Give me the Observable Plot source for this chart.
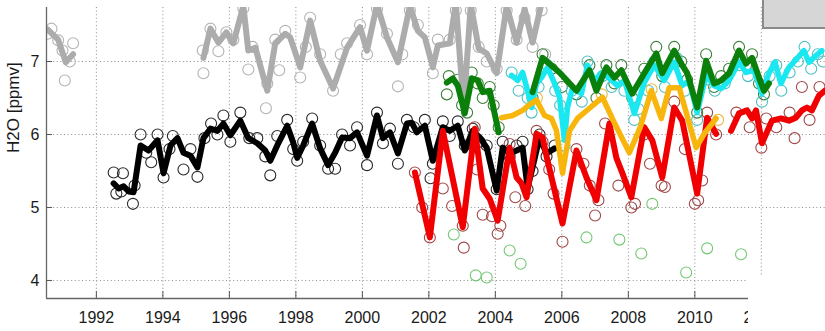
<!DOCTYPE html>
<html>
<head>
<meta charset="utf-8">
<script src="https://cdn.jsdelivr.net/npm/d3@7"></script>
<script src="https://cdn.jsdelivr.net/npm/@observablehq/plot@0.6"></script>
<style>
  html, body { margin: 0; padding: 0; background: #fff; }
  #wrap { position: relative; width: 825px; height: 331px; overflow: hidden; }
  #patch { position: absolute; left: 748px; top: 275px; width: 80px; height: 60px; background: #fff; }
  #legendbox { position: absolute; left: 762px; top: -2px; width: 70px; height: 29px; background: #d6d6d6; border-left: 2px solid #8a8a8a; border-bottom: 2px solid #8a8a8a; }
</style>
</head>
<body>
<div id="wrap"><div id="chart"></div><div id="patch"></div><div id="legendbox"></div></div>
<script>
// ---- axis ticks ----
const xTicks = [1992, 1994, 1996, 1998, 2000, 2002, 2004, 2006, 2008, 2010, 2012];
const yTicks = [4, 5, 6, 7];
const xDomain = [1990.5, 2013.93];
const yDomain = [3.753, 7.74];
const yLabel = "H2O [ppmv]";

// ---- gray series (line) ----
const grayYears1 = [1990.53, 1990.85, 1991.08, 1991.3];
const grayValues1 = [7.44, 7.30, 6.99, 7.10];
const grayYears2 = [1995.22, 1995.43, 1995.67, 1995.91, 1996.12, 1996.42, 1996.57, 1996.78, 1997.14, 1997.38, 1997.68, 1997.83, 1998.13, 1998.43, 1998.73, 1999.12, 1999.54, 1999.93, 2000.14, 2000.44, 2000.74, 2001.07, 2001.43, 2001.67, 2001.88, 2002.12, 2002.27, 2002.63, 2002.81, 2003.05, 2003.26, 2003.50, 2003.74, 2004.04, 2004.34, 2004.64, 2004.88, 2005.12, 2005.39];
const grayValues2 = [7.05, 7.45, 7.26, 7.40, 7.25, 7.76, 7.15, 7.19, 6.60, 7.25, 7.38, 7.33, 6.92, 7.56, 7.01, 6.63, 7.19, 7.47, 7.15, 7.78, 7.33, 6.99, 7.76, 7.42, 7.33, 6.92, 7.22, 7.25, 7.80, 6.37, 7.78, 7.18, 7.11, 6.84, 7.76, 7.26, 7.72, 7.26, 7.80];
// gray circles
const grayCircYears = [1990.53, 1990.65, 1990.85, 1990.98, 1991.30, 1991.05, 1991.20, 1995.22, 1995.20, 1995.43, 1995.67, 1995.91, 1996.12, 1996.42, 1996.57, 1996.70, 1997.10, 1997.14, 1997.38, 1997.50, 1997.68, 1998.13, 1998.30, 1998.43, 1998.73, 1999.12, 1999.35, 1999.54, 1999.93, 2000.14, 2000.44, 2000.74, 2001.07, 2001.20, 2001.43, 2001.67, 2002.12, 2002.27, 2002.63, 2002.81, 2003.05, 2003.26, 2003.50, 2003.74, 2004.04, 2004.34, 2004.64, 2004.88, 2005.12, 2005.39, 2005.50];
const grayCircValues = [7.38, 7.45, 7.29, 7.15, 7.25, 6.74, 7.00, 6.84, 7.15, 7.45, 7.14, 7.40, 7.30, 7.73, 6.89, 7.20, 6.36, 6.70, 7.30, 6.88, 7.42, 6.78, 7.20, 7.60, 7.10, 6.60, 7.10, 7.25, 7.50, 7.10, 7.72, 7.38, 6.66, 7.10, 7.70, 7.50, 6.84, 7.30, 7.30, 7.70, 6.55, 7.70, 7.20, 7.00, 6.90, 7.70, 7.30, 7.60, 7.20, 7.70, 7.10];

// ---- black series ----
const blackYears = [1992.52, 1992.67, 1992.82, 1992.97, 1993.12, 1993.33, 1993.57, 1993.84, 1994.02, 1994.23, 1994.44, 1994.62, 1994.83, 1995.04, 1995.22, 1995.43, 1995.64, 1995.82, 1996.03, 1996.33, 1996.57, 1996.84, 1997.08, 1997.23, 1997.44, 1997.74, 1997.92, 1998.04, 1998.22, 1998.49, 1998.73, 1998.97, 1999.18, 1999.39, 1999.63, 1999.84, 2000.14, 2000.44, 2000.62, 2000.83, 2001.07, 2001.34, 2001.49, 2001.64, 2001.88, 2002.12, 2002.42, 2002.63, 2002.87, 2003.08, 2003.32, 2003.53, 2003.74, 2004.04, 2004.22, 2004.43, 2004.64, 2004.82, 2004.97, 2005.12, 2005.33, 2005.54, 2005.78];
const blackValues = [5.33, 5.26, 5.29, 5.22, 5.21, 5.85, 5.78, 5.92, 5.47, 5.85, 5.95, 5.75, 5.71, 5.55, 5.95, 6.08, 6.05, 6.15, 5.99, 6.19, 5.95, 5.88, 5.78, 5.64, 5.85, 6.12, 5.89, 5.68, 5.85, 6.15, 5.81, 5.58, 5.75, 5.96, 5.95, 6.03, 5.71, 6.26, 5.95, 6.03, 5.74, 6.15, 6.16, 6.03, 6.12, 5.64, 6.10, 6.05, 6.12, 5.78, 6.05, 5.96, 5.82, 5.23, 5.82, 5.74, 5.78, 5.82, 5.27, 5.55, 5.96, 5.74, 5.81];
const blackCircYears = [1992.52, 1992.80, 1992.60, 1992.75, 1993.10, 1993.15, 1993.33, 1993.50, 1993.65, 1993.84, 1994.02, 1994.20, 1994.30, 1994.62, 1994.83, 1995.04, 1995.25, 1995.45, 1995.64, 1995.82, 1996.03, 1996.33, 1996.60, 1996.84, 1997.08, 1997.23, 1997.44, 1997.74, 1997.92, 1998.04, 1998.22, 1998.49, 1998.73, 1998.97, 1999.18, 1999.39, 1999.63, 1999.84, 2000.14, 2000.44, 2000.62, 2000.83, 2001.07, 2001.34, 2001.55, 2001.88, 2002.05, 2002.12, 2002.42, 2002.63, 2002.87, 2003.08, 2003.32, 2003.53, 2003.74, 2004.04, 2004.22, 2004.43, 2004.64, 2004.82, 2004.97, 2005.12, 2005.33, 2005.54, 2005.78];
const blackCircValues = [5.48, 5.47, 5.19, 5.22, 5.05, 5.30, 6.00, 5.75, 5.62, 6.00, 5.41, 5.80, 5.98, 5.52, 5.80, 5.42, 5.95, 6.15, 6.00, 6.26, 5.90, 6.30, 5.95, 5.95, 5.70, 5.44, 5.98, 6.20, 5.80, 5.64, 5.90, 6.22, 5.85, 5.53, 5.53, 6.00, 5.85, 6.10, 5.58, 6.30, 5.88, 6.08, 5.60, 6.20, 6.10, 6.20, 5.40, 5.60, 6.18, 5.98, 6.18, 5.85, 6.08, 5.90, 5.85, 5.25, 5.90, 5.70, 5.85, 5.90, 5.25, 5.50, 6.00, 5.70, 5.85];

// ---- red series ----
const redYears1 = [2001.58, 2002.03, 2002.42, 2003.02, 2003.38, 2003.62, 2003.83, 2004.07, 2004.43, 2004.64, 2004.79, 2004.94, 2005.24, 2005.42, 2005.57, 2006.02, 2006.44, 2006.74, 2007.04, 2007.43, 2007.64, 2007.82, 2008.09, 2008.48, 2008.72, 2009.02, 2009.38, 2009.62, 2010.07, 2010.37, 2010.64];
const redValues1 = [5.48, 4.59, 6.05, 4.73, 6.08, 5.26, 5.12, 4.82, 5.82, 5.41, 5.33, 5.14, 6.01, 5.96, 5.64, 4.78, 5.78, 5.41, 5.10, 6.15, 5.68, 5.47, 5.14, 6.10, 5.92, 5.41, 6.37, 6.19, 5.19, 6.23, 6.01];
const redYears2 = [2011.09, 2011.33, 2011.57, 2011.72, 2011.84, 2012.02, 2012.32, 2012.59, 2012.83, 2013.04, 2013.22, 2013.37, 2013.52, 2013.73, 2013.91];
const redValues2 = [6.05, 6.29, 6.33, 6.22, 6.33, 5.88, 6.19, 6.22, 6.19, 6.23, 6.33, 6.37, 6.33, 6.53, 6.60];
const redCircYears = [2001.58, 2001.80, 2002.03, 2002.42, 2002.70, 2003.02, 2003.05, 2003.38, 2003.45, 2003.62, 2003.90, 2004.07, 2004.15, 2004.43, 2004.60, 2004.90, 2005.24, 2005.42, 2005.62, 2005.75, 2006.02, 2006.44, 2006.65, 2006.84, 2007.00, 2007.10, 2007.30, 2007.70, 2008.09, 2008.20, 2008.48, 2008.65, 2009.00, 2009.10, 2009.38, 2009.70, 2010.00, 2010.10, 2010.22, 2010.37, 2010.64, 2011.25, 2011.65, 2012.00, 2012.15, 2012.45, 2012.85, 2013.00, 2013.22, 2013.45, 2013.75];
const redCircValues = [5.48, 5.00, 4.59, 5.26, 5.02, 4.75, 4.45, 6.10, 5.52, 4.90, 4.88, 4.64, 4.75, 5.87, 5.14, 5.02, 6.05, 5.90, 5.52, 5.19, 4.53, 5.80, 5.60, 5.30, 4.89, 5.10, 6.15, 5.30, 5.00, 5.05, 6.00, 5.60, 5.30, 5.28, 6.45, 5.80, 5.05, 5.10, 5.37, 6.30, 6.00, 6.30, 6.10, 5.82, 6.22, 6.10, 6.30, 5.95, 6.65, 6.20, 6.65];

// ---- green series ----
const greenYears1 = [2002.54, 2002.72, 2002.87, 2003.08, 2003.29, 2003.47, 2003.62, 2003.83, 2004.10];
const greenValues1 = [6.71, 6.77, 6.67, 6.29, 6.77, 6.74, 6.58, 6.60, 6.03];
const greenYears2 = [2005.12, 2005.42, 2005.93, 2006.44, 2006.83, 2007.04, 2007.34, 2007.58, 2007.79, 2008.12, 2008.48, 2008.84, 2009.02, 2009.38, 2009.59, 2009.77, 2010.07, 2010.34, 2010.58, 2010.79, 2011.03, 2011.33, 2011.54, 2011.72, 2011.93, 2012.08, 2012.23];
const greenValues2 = [6.58, 7.05, 6.85, 6.60, 6.88, 6.60, 6.92, 6.78, 6.88, 6.56, 6.84, 7.11, 6.84, 7.15, 6.97, 6.84, 6.37, 7.01, 6.70, 6.74, 6.84, 7.15, 6.97, 7.05, 6.78, 6.60, 6.70];
const greenCircYears = [2002.54, 2002.60, 2002.87, 2003.00, 2003.15, 2003.29, 2003.47, 2003.62, 2003.83, 2003.95, 2004.10, 2005.12, 2005.42, 2005.70, 2006.00, 2006.44, 2006.83, 2007.04, 2007.34, 2007.58, 2007.79, 2008.12, 2008.48, 2008.84, 2009.02, 2009.38, 2009.59, 2009.77, 2010.07, 2010.34, 2010.58, 2010.79, 2011.03, 2011.33, 2011.54, 2011.72, 2011.93, 2012.08];
const greenCircValues = [6.55, 6.80, 6.75, 6.40, 6.30, 6.85, 6.70, 6.50, 6.65, 6.40, 6.10, 6.50, 7.10, 6.90, 6.65, 6.55, 6.95, 6.50, 6.95, 6.70, 6.95, 6.50, 6.90, 7.20, 6.80, 7.20, 7.00, 6.75, 6.30, 7.10, 6.65, 6.80, 6.90, 7.20, 6.95, 7.10, 6.70, 6.55];

// ---- cyan series ----
const cyanYears = [2004.49, 2004.67, 2004.82, 2004.97, 2005.09, 2005.24, 2005.39, 2005.57, 2005.78, 2005.93, 2006.08, 2006.17, 2006.32, 2006.59, 2006.77, 2006.98, 2007.22, 2007.43, 2007.67, 2007.88, 2008.18, 2008.48, 2008.78, 2009.08, 2009.38, 2009.62, 2009.83, 2010.07, 2010.34, 2010.58, 2010.79, 2011.03, 2011.33, 2011.54, 2011.78, 2012.02, 2012.23, 2012.41, 2012.59, 2012.83, 2013.07, 2013.28, 2013.43, 2013.64, 2013.82];
const cyanValues = [6.81, 6.74, 6.85, 6.60, 6.37, 6.70, 6.78, 6.92, 6.70, 6.51, 5.92, 6.37, 6.64, 6.56, 6.95, 6.74, 6.85, 6.77, 6.67, 6.74, 6.29, 6.71, 6.95, 6.74, 6.99, 6.67, 6.74, 6.30, 6.81, 6.67, 6.63, 6.74, 6.99, 6.85, 6.88, 6.56, 6.84, 6.99, 6.70, 6.92, 7.04, 7.15, 6.99, 7.08, 7.15];
const cyanCircYears = [2004.49, 2004.70, 2004.97, 2005.09, 2005.30, 2005.57, 2005.80, 2005.95, 2006.08, 2006.30, 2006.60, 2006.77, 2007.22, 2007.50, 2007.88, 2008.18, 2008.30, 2008.60, 2008.78, 2009.10, 2009.45, 2009.70, 2010.07, 2010.34, 2010.60, 2010.90, 2011.35, 2011.60, 2012.02, 2012.25, 2012.45, 2012.60, 2012.85, 2013.10, 2013.30, 2013.50, 2013.70, 2013.85];
const cyanCircValues = [6.85, 6.60, 6.50, 6.30, 6.65, 6.95, 6.60, 6.40, 5.85, 6.60, 6.45, 7.00, 6.80, 6.65, 6.60, 6.20, 6.35, 6.60, 7.00, 6.65, 7.05, 6.60, 6.20, 6.75, 6.60, 6.70, 6.95, 6.80, 6.45, 6.80, 6.95, 6.60, 6.85, 7.00, 7.20, 6.90, 7.10, 7.00];

// ---- orange series ----
const orangeYears = [2004.19, 2004.52, 2004.82, 2005.03, 2005.24, 2005.48, 2005.69, 2005.84, 2006.02, 2006.23, 2006.47, 2006.83, 2007.22, 2007.58, 2008.03, 2008.36, 2008.69, 2008.99, 2009.23, 2009.53, 2010.04, 2010.28, 2010.64];
const orangeValues = [6.23, 6.26, 6.33, 6.41, 6.47, 6.26, 6.22, 6.05, 5.47, 6.05, 6.22, 6.36, 6.51, 6.16, 5.75, 6.10, 6.60, 6.22, 6.64, 6.64, 5.82, 6.01, 6.22];
const orangeCircYears = [2005.25, 2007.20, 2008.70, 2010.70];
const orangeCircValues = [6.50, 6.55, 6.62, 6.20];

// ---- light green circles ----
const lightGreenYears = [2002.75, 2003.41, 2003.74, 2004.43, 2004.76, 2006.74, 2007.73, 2008.39, 2008.72, 2009.74, 2010.37, 2011.39];
const lightGreenValues = [4.63, 4.07, 4.04, 4.41, 4.23, 4.59, 4.56, 4.37, 5.05, 4.11, 4.44, 4.36];

const pts = (xs, ys) => xs.map((x, i) => ({x, y: ys[i]}));

const lineOpts = (stroke, w = 5.5) => ({x: "x", y: "y", stroke, strokeWidth: w, strokeLinejoin: "round", strokeLinecap: "round", clip: true});
const dotOpts = (stroke) => ({x: "x", y: "y", r: 5.5, stroke, strokeWidth: 1.1, fill: "none", clip: true});

const chart = Plot.plot({
  width: 825,
  height: 331,
  marginLeft: 46,
  marginRight: 0,
  marginTop: 7,
  marginBottom: 33,
  x: {domain: xDomain},
  y: {domain: yDomain},
  style: {fontFamily: "Arial, 'Liberation Sans', sans-serif", color: "#1a1a1a", background: "#fff"},
  marks: [
    Plot.ruleX(xTicks, {stroke: "#8c8c8c", strokeDasharray: "1,2.6"}),
    Plot.ruleY(yTicks, {stroke: "#8c8c8c", strokeDasharray: "1,2.6"}),
    // circles
    Plot.dot(pts(grayCircYears, grayCircValues), dotOpts("#b4b4b4")),
    Plot.dot(pts(blackCircYears, blackCircValues), dotOpts("#2a2a2a")),
    Plot.dot(pts(redCircYears, redCircValues), dotOpts("#a04848")),
    Plot.dot(pts(greenCircYears, greenCircValues), dotOpts("#3a7f3a")),
    Plot.dot(pts(cyanCircYears, cyanCircValues), dotOpts("#4ec0c4")),
    Plot.dot(pts(orangeCircYears, orangeCircValues), dotOpts("#e8b840")),
    Plot.dot(pts(lightGreenYears, lightGreenValues), dotOpts("#74c874")),
    // lines
    Plot.line(pts(grayYears1, grayValues1), lineOpts("#acacac", 6)),
    Plot.line(pts(grayYears2, grayValues2), lineOpts("#acacac", 6)),
    Plot.line(pts(blackYears, blackValues), lineOpts("#000000", 6)),
    Plot.line(pts(redYears1, redValues1), lineOpts("#f00000", 6)),
    Plot.line(pts(redYears2, redValues2), lineOpts("#f00000", 6)),
    Plot.line(pts(cyanYears, cyanValues), lineOpts("#19e8f0")),
    Plot.line(pts(orangeYears, orangeValues), lineOpts("#f8b60c")),
    Plot.line(pts(greenYears1, greenValues1), lineOpts("#0a7f0a", 6)),
    Plot.line(pts(greenYears2, greenValues2), lineOpts("#0a7f0a", 6)),
    // axes
    Plot.ruleX([xDomain[0]], {stroke: "#666", strokeWidth: 1.3}),
    Plot.ruleY([yDomain[0]], {stroke: "#666", strokeWidth: 1.3}),
    Plot.ruleX(xTicks, {stroke: "#555", insetTop: 284}),
    Plot.ruleY(yTicks, {stroke: "#555", insetRight: 773}),
    Plot.axisX(xTicks, {tickSize: 0, tickPadding: 13, fontSize: 16, tickFormat: d => String(d), label: null}),
    Plot.axisY(yTicks, {tickSize: 0, tickPadding: 7, fontSize: 16, tickFormat: d => String(d), label: null}),
    Plot.text([yLabel], {frameAnchor: "left", rotate: -90, dx: -33, fontSize: 17, fill: "#1a1a1a"})
  ]
});
document.getElementById("chart").appendChild(chart);
</script>
</body>
</html>
